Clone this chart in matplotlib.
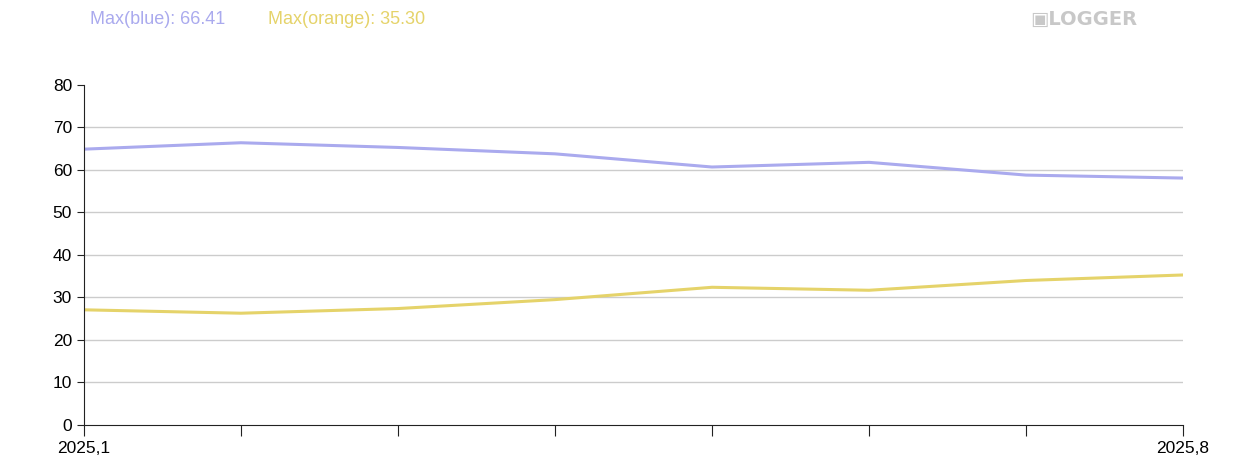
import matplotlib
matplotlib.use("Agg")
import matplotlib.pyplot as plt

months = ["2025,1", "", "", "", "", "", "", "2025,8"]
blue = [64.9, 66.41, 65.3, 63.8, 60.7, 61.8, 58.8, 58.1]
orange = [27.1, 26.3, 27.4, 29.5, 32.4, 31.7, 34.0, 35.30]
blue_color = "#aaaaee"
orange_color = "#e5d36a"

plt.rcParams["font.family"] = ["Liberation Sans", "DejaVu Sans"]
fig = plt.figure(figsize=(12.34, 4.74), dpi=100)
ax = fig.add_axes([0.068, 0.1034, 0.8907, 0.7173])

x = list(range(len(months)))
ax.plot(x, blue, color=blue_color, linewidth=2.2)
ax.plot(x, orange, color=orange_color, linewidth=2.2)

ax.set_xlim(0, len(months) - 1)
ax.set_ylim(0, 80)
ax.set_yticks(range(0, 81, 10))
ax.set_xticks(x)
ax.set_xticklabels(months)
ax.tick_params(axis="both", labelsize=12.5, direction="out", color="#222222")
ax.tick_params(axis="x", length=8)
ax.tick_params(axis="y", length=5)
for y in range(10, 80, 10):
    ax.axhline(y, color="#cccccc", linewidth=1, zorder=0)
for s in ["top", "right"]:
    ax.spines[s].set_visible(False)
ax.spines["left"].set_color("#222222")
ax.spines["bottom"].set_color("#222222")

fig.text(0.073, 0.958, f"Max(blue): {max(blue):.2f}", color=blue_color, fontsize=13, va="center")
fig.text(0.217, 0.958, f"Max(orange): {max(orange):.2f}", color=orange_color, fontsize=13, va="center")
fig.text(0.835, 0.958, "\u25a3LOGGER", color="#c8c8c8", fontsize=14, fontweight="bold", va="center",
         family=["DejaVu Sans"])

fig.savefig("out.png", dpi=100)
